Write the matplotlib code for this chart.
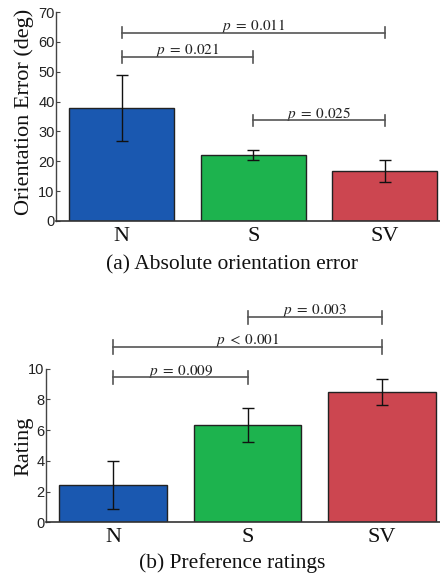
import matplotlib
matplotlib.use("Agg")
import matplotlib.pyplot as plt

plt.rcParams['mathtext.fontset'] = 'stix'

categories = ["N", "S", "SV"]
colors = ["#1a58b0", "#1db34e", "#cc4650"]

# (a) Absolute orientation error
err_means = [37.8, 22.0, 16.6]
err_sd = [11.1, 1.7, 3.7]
err_yticks = [0, 10, 20, 30, 40, 50, 60, 70]
err_pairs = [(0, 2, 63.1, r"$p\;=\;0.011$"), (0, 1, 54.9, r"$p\;=\;0.021$"), (1, 2, 33.7, r"$p\;=\;0.025$")]

# (b) Preference ratings
rat_means = [2.42, 6.32, 8.46]
rat_sd = [1.55, 1.12, 0.85]
rat_yticks = [0, 2, 4, 6, 8, 10]
rat_pairs = [(1, 2, 13.35, r"$p\;=\;0.003$"), (0, 2, 11.41, r"$p\;<\;0.001$"), (0, 1, 9.44, r"$p\;=\;0.009$")]

W, H = 440, 577
fig = plt.figure(figsize=(W / 100, H / 100), dpi=100)

def make_axes(left, top, bottom, xmax, means, sd, yticks, ylim, pairs, tick_half, ylabel, caption, cap_y, lab_y):
    ax = fig.add_axes([left / W, 1 - bottom / H, (W - left) / W, (bottom - top) / H])
    x = [1, 2, 3]
    ax.bar(x, means, width=0.8, color=colors, edgecolor="#222222", linewidth=1.0, zorder=2)
    ax.errorbar(x, means, yerr=sd, fmt="none", ecolor="#111111", elinewidth=1.0,
                capsize=4.5, capthick=1.0, zorder=3)
    ax.set_xlim(0.5, xmax)
    ax.set_ylim(*ylim)
    ax.set_yticks(yticks)
    ax.set_yticklabels([str(t) for t in yticks], family="Liberation Sans", fontsize=10.5, color="#222222")
    ax.set_xticks(x)
    ax.set_xticklabels(categories, family="Liberation Serif", fontsize=16, color="#111111")
    ax.tick_params(axis="x", length=0, pad=4)
    ax.tick_params(axis="y", direction="in", length=3, width=0.8, color="#444444", pad=1)
    for s in ("top", "right"):
        ax.spines[s].set_visible(False)
    ax.spines["left"].set_color("#444444")
    ax.spines["bottom"].set_color("#333333")
    ax.spines["left"].set_linewidth(1.0)
    ax.spines["bottom"].set_linewidth(1.2)
    for i, j, y, txt in pairs:
        xi, xj = x[i], x[j]
        ax.plot([xi, xj], [y, y], color="#555555", lw=1.2, clip_on=False, zorder=4)
        ax.plot([xi, xi], [y - tick_half, y + tick_half], color="#555555", lw=1.2, clip_on=False, zorder=4)
        ax.plot([xj, xj], [y - tick_half, y + tick_half], color="#555555", lw=1.2, clip_on=False, zorder=4)
        ax.annotate(txt, xy=((xi + xj) / 2, y), xytext=(0, 2), textcoords="offset points",
                    ha="center", va="baseline", fontsize=11, color="#222222", annotation_clip=False)
    fig.text(24 / W, 1 - lab_y / H, ylabel, rotation=90, ha="center", va="center",
             family="Liberation Serif", fontsize=16, color="#111111")
    fig.text(232 / W, 1 - cap_y / H, caption, ha="center", va="center",
             family="Liberation Serif", fontsize=15.5, color="#111111")
    return ax

make_axes(56, 12, 221, 3.42, err_means, err_sd, err_yticks, (0, 70), err_pairs, 1.9,
          "Orientation Error (deg)", "(a) Absolute orientation error", 265, 112)
make_axes(46, 368.7, 522.3, 3.43, rat_means, rat_sd, rat_yticks, (0, 10), rat_pairs, 0.43,
          "Rating", "(b) Preference ratings", 563, 446)

fig.savefig("out.png", dpi=100)
